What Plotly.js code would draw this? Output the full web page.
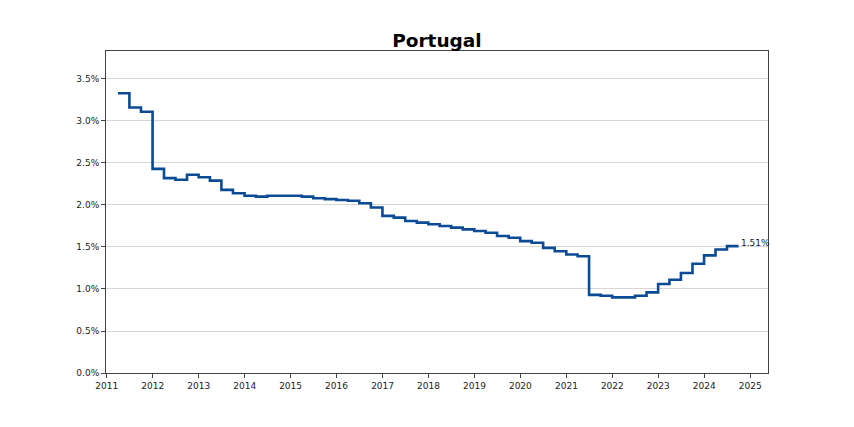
<!DOCTYPE html>
<html>
<head>
<meta charset="utf-8">
<script src="https://cdn.plot.ly/plotly-3.0.1.min.js"></script>
<style>html,body{margin:0;padding:0;background:#fff;}#chart{width:854px;height:427px;}</style>
</head>
<body>
<div id="chart"></div>
<script>
// Quarter-end dates, 2011Q1 .. 2024Q3
const dates = [
  "2011-03-31","2011-06-30","2011-09-30","2011-12-31",
  "2012-03-31","2012-06-30","2012-09-30","2012-12-31",
  "2013-03-31","2013-06-30","2013-09-30","2013-12-31",
  "2014-03-31","2014-06-30","2014-09-30","2014-12-31",
  "2015-03-31","2015-06-30","2015-09-30","2015-12-31",
  "2016-03-31","2016-06-30","2016-09-30","2016-12-31",
  "2017-03-31","2017-06-30","2017-09-30","2017-12-31",
  "2018-03-31","2018-06-30","2018-09-30","2018-12-31",
  "2019-03-31","2019-06-30","2019-09-30","2019-12-31",
  "2020-03-31","2020-06-30","2020-09-30","2020-12-31",
  "2021-03-31","2021-06-30","2021-09-30","2021-12-31",
  "2022-03-31","2022-06-30","2022-09-30","2022-12-31",
  "2023-03-31","2023-06-30","2023-09-30","2023-12-31",
  "2024-03-31","2024-06-30","2024-09-30"
];
// Rate in percent
const rates = [
  3.33, 3.16, 3.11, 2.43,
  2.32, 2.30, 2.36, 2.33,
  2.29, 2.18, 2.14, 2.11,
  2.10, 2.11, 2.11, 2.11,
  2.10, 2.08, 2.07, 2.06,
  2.05, 2.02, 1.97, 1.87,
  1.85, 1.81, 1.79, 1.77,
  1.75, 1.73, 1.71, 1.69,
  1.67, 1.63, 1.61, 1.57,
  1.55, 1.49, 1.45, 1.41,
  1.39, 0.93, 0.92, 0.90,
  0.90, 0.92, 0.96, 1.06,
  1.11, 1.19, 1.30, 1.40,
  1.47, 1.51, 1.51
];
const yTicks = [0, 0.5, 1.0, 1.5, 2.0, 2.5, 3.0, 3.5];
const xTickYears = ["2011","2012","2013","2014","2015","2016","2017","2018","2019","2020","2021","2022","2023","2024","2025"];
const chartTitle = "Portugal";

const lastX = dates[dates.length - 1];
const lastY = rates[rates.length - 1];

const trace = {
  x: dates,
  y: rates,
  type: "scatter",
  mode: "lines",
  line: {shape: "hv", color: "#0b4a94", width: 2.6},
  hoverinfo: "skip"
};

const layout = {
  width: 854,
  height: 427,
  margin: {l: 106, r: 86, t: 51, b: 54},
  paper_bgcolor: "#ffffff",
  plot_bgcolor: "#ffffff",
  showlegend: false,
  font: {family: "DejaVu Sans", size: 9, color: "#222"},
  title: {
    text: "<b>" + chartTitle + "</b>",
    font: {family: "DejaVu Sans", size: 18.5, color: "#000"},
    x: 0.5116, xanchor: "center", xref: "container",
    y: 0.906, yanchor: "middle", yref: "container"
  },
  xaxis: {
    type: "date",
    range: ["2010-12-26", "2025-05-22"],
    tickmode: "array",
    tickvals: xTickYears.map(y => y + "-01-01"),
    ticktext: xTickYears,
    showgrid: false,
    zeroline: false,
    showline: true, linecolor: "#444", linewidth: 1, mirror: true,
    ticks: "outside", ticklen: 4, tickcolor: "#444", tickwidth: 1,
    tickfont: {family: "DejaVu Sans", size: 9, color: "#222"}
  },
  yaxis: {
    range: [0, 3.833],
    tickmode: "array",
    tickvals: yTicks,
    ticktext: yTicks.map(v => v.toFixed(1) + "%"),
    showgrid: true, gridcolor: "#d6d6d6", gridwidth: 1,
    zeroline: false,
    showline: true, linecolor: "#444", linewidth: 1, mirror: true,
    ticks: "outside", ticklen: 4, tickcolor: "#444", tickwidth: 1,
    tickfont: {family: "DejaVu Sans", size: 9, color: "#222"}
  },
  annotations: [{
    x: lastX, y: lastY, xref: "x", yref: "y",
    text: lastY.toFixed(2) + "%",
    showarrow: false, xanchor: "left", yanchor: "bottom",
    xshift: 0, yshift: -4,
    font: {family: "DejaVu Sans", size: 9, color: "#222"}
  }]
};

Plotly.newPlot("chart", [trace], layout, {displayModeBar: false, staticPlot: true});
</script>
</body>
</html>
